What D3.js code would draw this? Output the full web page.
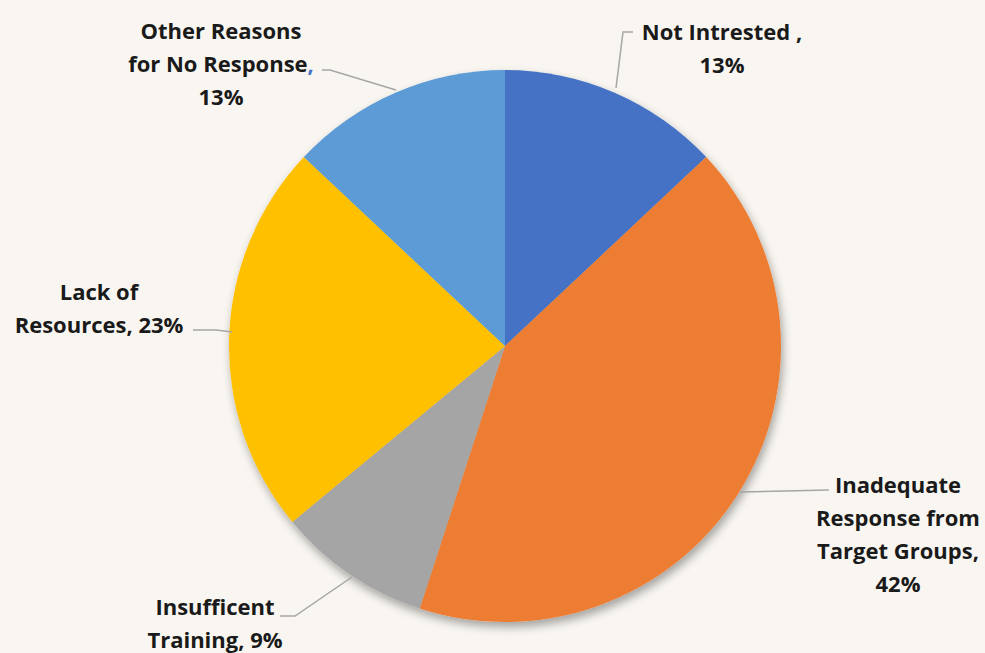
<!DOCTYPE html>
<html>
<head>
<meta charset="utf-8">
<script src="https://cdn.jsdelivr.net/npm/d3@7"></script>
<style>
  body { margin: 0; background: #f9f6f1; }
  svg { display: block; }
</style>
</head>
<body>
<svg id="drawing_region"></svg>
<script>
const categories = ["Not Intrested", "Inadequate Response from Target Groups", "Insufficent Training", "Lack of Resources", "Other Reasons for No Response"];
const values = [13, 42, 9, 23, 13];
const colors = ["#4472c4", "#ed7d31", "#a5a5a5", "#ffc000", "#5b9bd5"];
// label text lines, as in the original chart
const labelLines = [
    ["Not Intrested ,", "13%"],
    ["Inadequate", "Response from", "Target Groups,", "42%"],
    ["Insufficent", "Training, 9%"],
    ["Lack of", "Resources, 23%"],
    ["Other Reasons", "for No Response,", "13%"]
];

const width = 985, height = 653;
const cx = 505, cy = 346, radius = 276;

const svg = d3.select('#drawing_region')
    .attr('width', width)
    .attr('height', height);

svg.append('rect').attr('width', width).attr('height', height).attr('fill', '#f9f6f1');

const defs = svg.append('defs');
const filter = defs.append('filter').attr('id', 'shadow')
    .attr('x', '-20%').attr('y', '-20%').attr('width', '140%').attr('height', '140%');
filter.append('feGaussianBlur').attr('in', 'SourceAlpha').attr('stdDeviation', 5).attr('result', 'blur');
filter.append('feOffset').attr('in', 'blur').attr('dx', 2).attr('dy', 5).attr('result', 'off');
filter.append('feComponentTransfer').attr('in', 'off').attr('result', 'soft')
    .append('feFuncA').attr('type', 'linear').attr('slope', 0.35);
const merge = filter.append('feMerge');
merge.append('feMergeNode').attr('in', 'soft');
merge.append('feMergeNode').attr('in', 'SourceGraphic');

const data = categories.map((c, i) => ({ label: c, value: values[i], color: colors[i], lines: labelLines[i] }));

const pie = d3.pie().value(d => d.value).sort(null);
const arc = d3.arc().innerRadius(0).outerRadius(radius);
const arcs = pie(data);

const g = svg.append('g')
    .attr('transform', `translate(${cx},${cy})`);

g.append('g').attr('filter', 'url(#shadow)')
    .selectAll('path')
    .data(arcs)
    .enter()
    .append('path')
    .attr('d', arc)
    .attr('fill', d => d.data.color);

// label anchors (text centre x, first baseline y) and leader line points
const labelPos = [
    { x: 722, y: 40, line: [[633, 32], [623, 32], [616, 88]] },
    { x: 898, y: 493, line: [[829, 490], [740, 492]] },
    { x: 215, y: 615, line: [[280, 616], [295, 616], [352, 577]] },
    { x: 99, y: 300, line: [[193, 330], [216, 330], [232, 332]] },
    { x: 221, y: 39, line: [[322, 70], [330, 70], [396, 90]] }
];
const lineH = 33;

svg.selectAll('.leader')
    .data(arcs)
    .enter()
    .append('polyline')
    .attr('class', 'leader')
    .attr('points', (d, i) => labelPos[i].line.map(p => p.join(',')).join(' '))
    .attr('fill', 'none')
    .attr('stroke', '#a6a6a6')
    .attr('stroke-width', 1.5);

const labels = svg.selectAll('.label')
    .data(arcs)
    .enter()
    .append('text')
    .attr('class', 'label')
    .attr('text-anchor', 'middle')
    .attr('font-family', '"Open Sans", Lato, sans-serif')
    .attr('font-weight', 'bold')
    .attr('font-size', '22px')
    .attr('fill', '#1a1a1a');

labels.each(function(d, i) {
    const t = d3.select(this);
    d.data.lines.forEach((ln, j) => {
        const ts = t.append('tspan')
            .attr('x', labelPos[i].x)
            .attr('y', labelPos[i].y + j * lineH);
        if (i === 4 && j === 1) {
            ts.text('for No Response');
            t.append('tspan').attr('fill', '#4472c4').text(',');
        } else {
            ts.text(ln);
        }
    });
});
</script>
</body>
</html>
